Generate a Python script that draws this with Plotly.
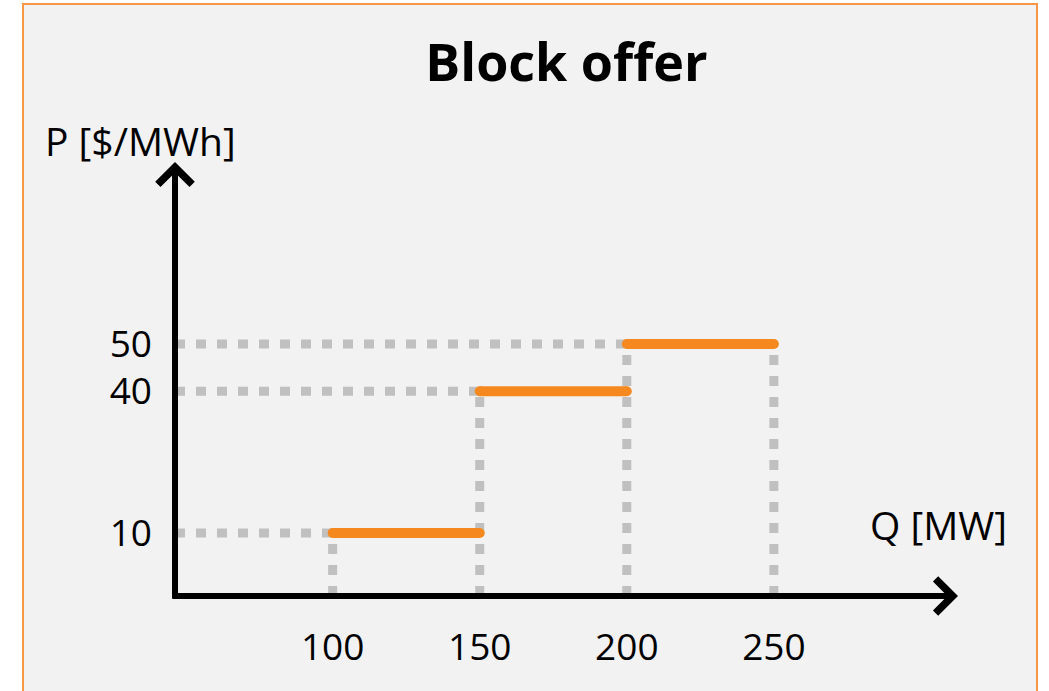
import plotly.graph_objects as go

# ---- data ----
block_bounds = [100, 150, 200, 250]      # Q [MW] block boundaries
block_prices = [10, 40, 50]              # P [$/MWh] per block
x_ticks = [100, 150, 200, 250]
y_ticks = [10, 40, 50]

# ---- layout geometry ----
W, H = 1049, 691
L, R, T, B = 175, 91, 162, 95
pw, ph = W - L - R, H - T - B
x_range = [46.4, 312.6]
y_range = [-3.34, 88.5]


def pxx(px):
    return (px - L) / pw


def pxy(py):
    return (H - B - py) / ph


ORANGE = "#F5891F"
GRAY = "#C0C0C0"
FONT = "Open Sans"

fig = go.Figure()

# dotted guide lines (horizontal: axis -> block start at price level)
for i, p in enumerate(block_prices):
    fig.add_trace(go.Scatter(
        x=[x_range[0], block_bounds[i]], y=[p, p], mode="lines",
        line=dict(color=GRAY, width=9, dash="10px,11px"),
        hoverinfo="skip", showlegend=False))

# dotted guide lines (vertical: axis -> price at each boundary)
for j, q in enumerate(block_bounds):
    neighbours = []
    if j - 1 >= 0:
        neighbours.append(block_prices[j - 1])
    if j < len(block_prices):
        neighbours.append(block_prices[j])
    top = max(neighbours)
    fig.add_trace(go.Scatter(
        x=[q, q], y=[y_range[0], top], mode="lines",
        line=dict(color=GRAY, width=9, dash="10px,11px"),
        hoverinfo="skip", showlegend=False))

# orange offer blocks
for i, p in enumerate(block_prices):
    fig.add_trace(go.Scatter(
        x=[block_bounds[i], block_bounds[i + 1]], y=[p, p],
        mode="lines+markers",
        line=dict(color=ORANGE, width=10),
        marker=dict(color=ORANGE, size=10),
        hoverinfo="skip", showlegend=False))

# background panel with orange border
shapes = [dict(type="rect", xref="paper", yref="paper",
               x0=pxx(23), x1=pxx(1037), y0=pxy(720), y1=pxy(4),
               fillcolor="#F2F2F2", line=dict(color="#F79646", width=2),
               layer="below")]

annotations = [
    # axes with arrowheads
    dict(xref="paper", yref="paper", x=1, y=0, ax=-(pw + 4), ay=0,
         showarrow=True, arrowhead=4, arrowsize=1.1, arrowwidth=6,
         arrowcolor="black", text=""),
    dict(xref="paper", yref="paper", x=0, y=1, ax=0, ay=ph + 4,
         showarrow=True, arrowhead=4, arrowsize=1.1, arrowwidth=6,
         arrowcolor="black", text=""),
    # axis titles
    dict(xref="paper", yref="paper", x=pxx(43), y=pxy(140), xanchor="left",
         yanchor="middle", text="P [$/MWh]", showarrow=False,
         font=dict(family=FONT, size=39, color="black")),
    dict(xref="paper", yref="paper", x=pxx(1009), y=pxy(524), xanchor="right",
         yanchor="middle", text="Q [MW]", showarrow=False,
         font=dict(family=FONT, size=39, color="black")),
]

fig.update_layout(
    width=W, height=H,
    margin=dict(l=L, r=R, t=T, b=B),
    paper_bgcolor="white", plot_bgcolor="rgba(0,0,0,0)",
    title=dict(text="<b>Block offer</b>", x=0.5, xref="paper", xanchor="center",
               y=1 - 63 / H, yanchor="middle",
               font=dict(family=FONT, size=52, color="black")),
    shapes=shapes, annotations=annotations,
    xaxis=dict(range=x_range, showgrid=False, zeroline=False, showline=False,
               tickvals=x_ticks, ticktext=[str(v) for v in x_ticks], ticks="",
               ticklabelstandoff=26,
               tickfont=dict(family=FONT, size=37, color="black")),
    yaxis=dict(range=y_range, showgrid=False, zeroline=False, showline=False,
               tickvals=y_ticks, ticktext=[str(v) for v in y_ticks], ticks="",
               ticklabelstandoff=22,
               tickfont=dict(family=FONT, size=37, color="black")),
)

fig.write_html("out.html",
               config={"displayModeBar": False},
               post_script="document.body.style.margin='0';"
                           "document.body.style.overflow='hidden';")
